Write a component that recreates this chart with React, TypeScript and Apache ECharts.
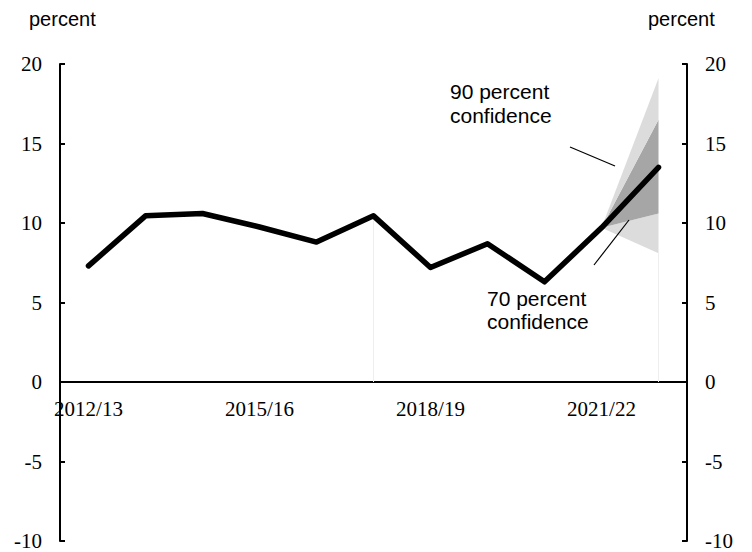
import React, { useEffect, useRef } from "react";
import * as echarts from "echarts";

const categories = [
  "2012/13", "2013/14", "2014/15", "2015/16", "2016/17", "2017/18",
  "2018/19", "2019/20", "2020/21", "2021/22", "2022/23",
];
const growth = [7.3, 10.45, 10.6, 9.75, 8.8, 10.45, 7.2, 8.7, 6.3, 9.7, 13.5];
const lower90: (number | string)[] = ["-", "-", "-", "-", "-", "-", "-", "-", "-", 9.7, 8.1];
const lower70: (number | string)[] = ["-", "-", "-", "-", "-", "-", "-", "-", "-", 9.7, 10.6];
const upper70: (number | string)[] = ["-", "-", "-", "-", "-", "-", "-", "-", "-", 9.7, 16.5];
const upper90: (number | string)[] = ["-", "-", "-", "-", "-", "-", "-", "-", "-", 9.7, 19.1];
const yTicks = { min: -10, max: 20, interval: 5 };
const unitLabel = "percent";
const label90 = ["90 percent", "confidence"];
const label70 = ["70 percent", "confidence"];

const diff = (a: (number | string)[], b: (number | string)[]) =>
  a.map((v, i) => (typeof v === "number" && typeof b[i] === "number" ? +(v - (b[i] as number)).toFixed(2) : "-"));

export default function App() {
  const ref = useRef<HTMLDivElement>(null);
  useEffect(() => {
    if (!ref.current) return;
    const chart = echarts.init(ref.current, null, { renderer: "svg" });
    const serif = "Liberation Serif";
    const sans = "Liberation Sans";
    const yAxisCommon = (pos: "left" | "right") => ({
      type: "value" as const,
      position: pos,
      min: yTicks.min,
      max: yTicks.max,
      interval: yTicks.interval,
      splitLine: { show: false },
      axisLine: { show: true, lineStyle: { color: "#000", width: 2 } },
      axisTick: { show: true, inside: true, length: 5, lineStyle: { color: "#000", width: 2 } },
      axisLabel: { color: "#000", fontFamily: serif, fontSize: 21, margin: 18 },
    });
    const bandSeries = (name: string, data: (number | string)[], color: string | null) => ({
      name,
      type: "line" as const,
      stack: "fan",
      data,
      symbol: "none",
      silent: true,
      lineStyle: { width: 0, opacity: 0 },
      areaStyle: color ? { color, opacity: 1 } : undefined,
      z: 1,
    });
    chart.setOption({
      animation: false,
      backgroundColor: "#fff",
      grid: { left: 60, right: 65, top: 64, bottom: 11, containLabel: false, outerBoundsMode: "none" },
      xAxis: {
        type: "category",
        data: categories,
        boundaryGap: true,
        position: "bottom",
        offset: -159,
        axisLine: { onZero: false, lineStyle: { color: "#000", width: 2 } },
        axisTick: { show: false },
        axisLabel: { interval: 2, color: "#000", fontFamily: serif, fontSize: 21, margin: 16 },
        splitLine: { show: false },
      },
      yAxis: [yAxisCommon("left"), yAxisCommon("right")],
      series: [
        bandSeries("lower90", lower90, null),
        bandSeries("band90low", diff(lower70, lower90), "#dcdcdc"),
        bandSeries("band70", diff(upper70, lower70), "#a6a6a6"),
        bandSeries("band90high", diff(upper90, upper70), "#dcdcdc"),
        {
          name: "growth",
          type: "line",
          data: growth,
          symbol: "none",
          lineStyle: { color: "#000", width: 5.5, cap: "round", join: "round" },
          z: 5,
          markLine: {
            silent: true,
            symbol: "none",
            label: { show: false },
            lineStyle: { color: "#eeeeee", width: 1, type: "solid" },
            data: [
              [{ coord: [categories[5], 0] }, { coord: [categories[5], growth[5]] }],
              [{ coord: [categories[10], 0] }, { coord: [categories[10], lower90[10]] }],
            ],
          },
        },
      ],
      graphic: [
        { type: "text", left: 29, top: 9, style: { text: unitLabel, fill: "#000", font: `20px ${sans}` } },
        { type: "text", left: 648, top: 9, style: { text: unitLabel, fill: "#000", font: `20px ${sans}` } },
        { type: "text", x: 450, y: 91, style: { text: label90[0], fill: "#000", font: `21px ${sans}`, verticalAlign: "middle" } },
        { type: "text", x: 450, y: 115, style: { text: label90[1], fill: "#000", font: `21px ${sans}`, verticalAlign: "middle" } },
        { type: "text", x: 487, y: 298, style: { text: label70[0], fill: "#000", font: `21px ${sans}`, verticalAlign: "middle" } },
        { type: "text", x: 487, y: 321, style: { text: label70[1], fill: "#000", font: `21px ${sans}`, verticalAlign: "middle" } },
        { type: "line", shape: { x1: 570, y1: 147, x2: 615, y2: 166 }, style: { stroke: "#000", lineWidth: 1.2 }, z: 10 },
        { type: "line", shape: { x1: 594, y1: 265, x2: 629, y2: 220 }, style: { stroke: "#000", lineWidth: 1.2 }, z: 10 },
      ],
    });
    return () => chart.dispose();
  }, []);
  return (
    <div
      ref={ref}
      style={{ position: "fixed", left: 0, top: 0, width: 752, height: 552 }}
    />
  );
}
